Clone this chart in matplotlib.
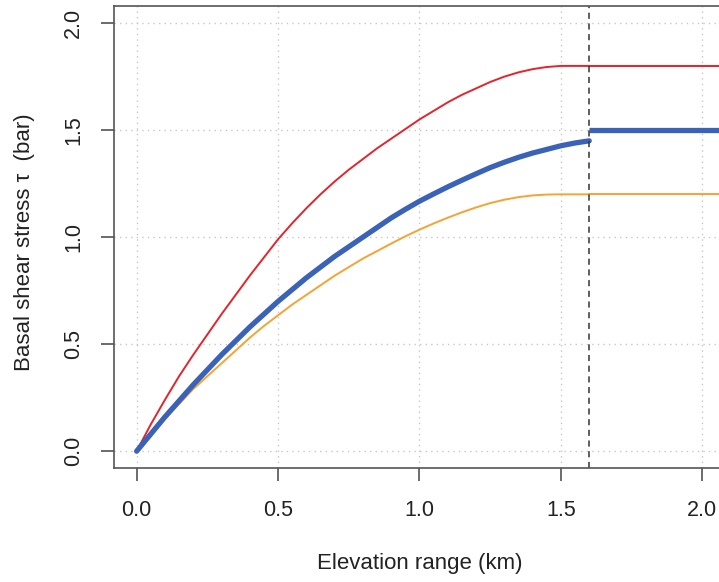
import matplotlib
matplotlib.use("Agg")
import matplotlib.pyplot as plt

plt.rcParams['font.family'] = ['Liberation Sans', 'DejaVu Sans']

# elevation range (km) and basal shear stress (bar)
elev = [0.0, 0.05, 0.1, 0.15, 0.2, 0.25, 0.3, 0.35, 0.4, 0.45, 0.5,
        0.55, 0.6, 0.65, 0.7, 0.75, 0.8, 0.85, 0.9, 0.95, 1.0,
        1.05, 1.1, 1.15, 1.2, 1.25, 1.3, 1.35, 1.4, 1.45, 1.5, 1.55, 1.6]
tau_high = [0.0, 0.125, 0.24, 0.35, 0.45, 0.545, 0.64, 0.73, 0.82, 0.905, 0.99,
            1.065, 1.135, 1.20, 1.26, 1.315, 1.365, 1.415, 1.46, 1.505, 1.55,
            1.59, 1.63, 1.665, 1.695, 1.725, 1.75, 1.77, 1.785, 1.795, 1.80, 1.80, 1.80]
tau_mid = [0.0, 0.08, 0.16, 0.235, 0.31, 0.38, 0.45, 0.515, 0.58, 0.64, 0.70,
           0.755, 0.81, 0.86, 0.91, 0.955, 1.00, 1.045, 1.09, 1.13, 1.168,
           1.202, 1.235, 1.266, 1.296, 1.325, 1.35, 1.373, 1.393, 1.41, 1.427, 1.44, 1.45]
tau_low = [0.0, 0.08, 0.15, 0.22, 0.29, 0.35, 0.41, 0.47, 0.53, 0.585, 0.635,
           0.685, 0.73, 0.775, 0.82, 0.86, 0.90, 0.935, 0.97, 1.004, 1.035,
           1.064, 1.091, 1.116, 1.139, 1.159, 1.175, 1.187, 1.195, 1.199, 1.20, 1.20, 1.20]

# plateau beyond the threshold elevation
plateau_x = [1.6, 2.1]
plateau_high = [1.80, 1.80]
plateau_mid = [1.50, 1.50]
plateau_low = [1.20, 1.20]
threshold = 1.6

xticks = [0.0, 0.5, 1.0, 1.5, 2.0]
yticks = [0.0, 0.5, 1.0, 1.5, 2.0]

RED = '#e3242b'
BLUE = '#3a62b6'
ORANGE = '#f7a233'

fig = plt.figure(figsize=(7.19, 5.82), dpi=100)
ax = fig.add_axes([114 / 719, 113.7 / 582, 611 / 719, 462.3 / 582])

# dotted grid
for v in xticks:
    ax.axvline(v, color='#c8c8c8', lw=1, ls=(0, (1, 3)), zorder=0)
for v in yticks:
    ax.axhline(v, color='#c8c8c8', lw=1, ls=(0, (1, 3)), zorder=0)

ax.plot(elev, tau_high, color=RED, lw=1.4)
ax.plot(plateau_x, plateau_high, color=RED, lw=1.4)
ax.plot(elev, tau_low, color=ORANGE, lw=1.4)
ax.plot(plateau_x, plateau_low, color=ORANGE, lw=1.4)
ax.plot(elev, tau_mid, color=BLUE, lw=3.8, solid_capstyle='round')
ax.plot(plateau_x, plateau_mid, color=BLUE, lw=3.8, solid_capstyle='butt')

ax.axvline(threshold, color='#333333', lw=1.1, ls=(0, (4, 3)))

ax.set_xlim(-0.08, 2.08)
ax.set_ylim(-0.08, 2.08)
ax.set_xticks(xticks)
ax.set_yticks(yticks)
ax.set_xticklabels([f"{v:.1f}" for v in xticks])
ax.set_yticklabels([f"{v:.1f}" for v in yticks], rotation=90, va='center')
ax.tick_params(axis='both', direction='out', length=9.5, width=1.1,
               color='#444444', labelsize=15.5, labelcolor='#222222')
ax.tick_params(axis='x', pad=13)
ax.tick_params(axis='y', pad=12)

for side in ['top', 'bottom', 'left', 'right']:
    ax.spines[side].set_color('#555555')
    ax.spines[side].set_linewidth(1.2)

ax.set_xlabel('Elevation range (km)', fontsize=16, color='#222222')
ax.set_ylabel('Basal shear stress τ  (bar)', fontsize=16, color='#222222')
ax.xaxis.label.set_va('center')
ax.yaxis.label.set_va('center')
ax.xaxis.set_label_coords(0.5, -0.205)
ax.yaxis.set_label_coords(-0.146, 0.49)

fig.savefig('out.png', dpi=100)
